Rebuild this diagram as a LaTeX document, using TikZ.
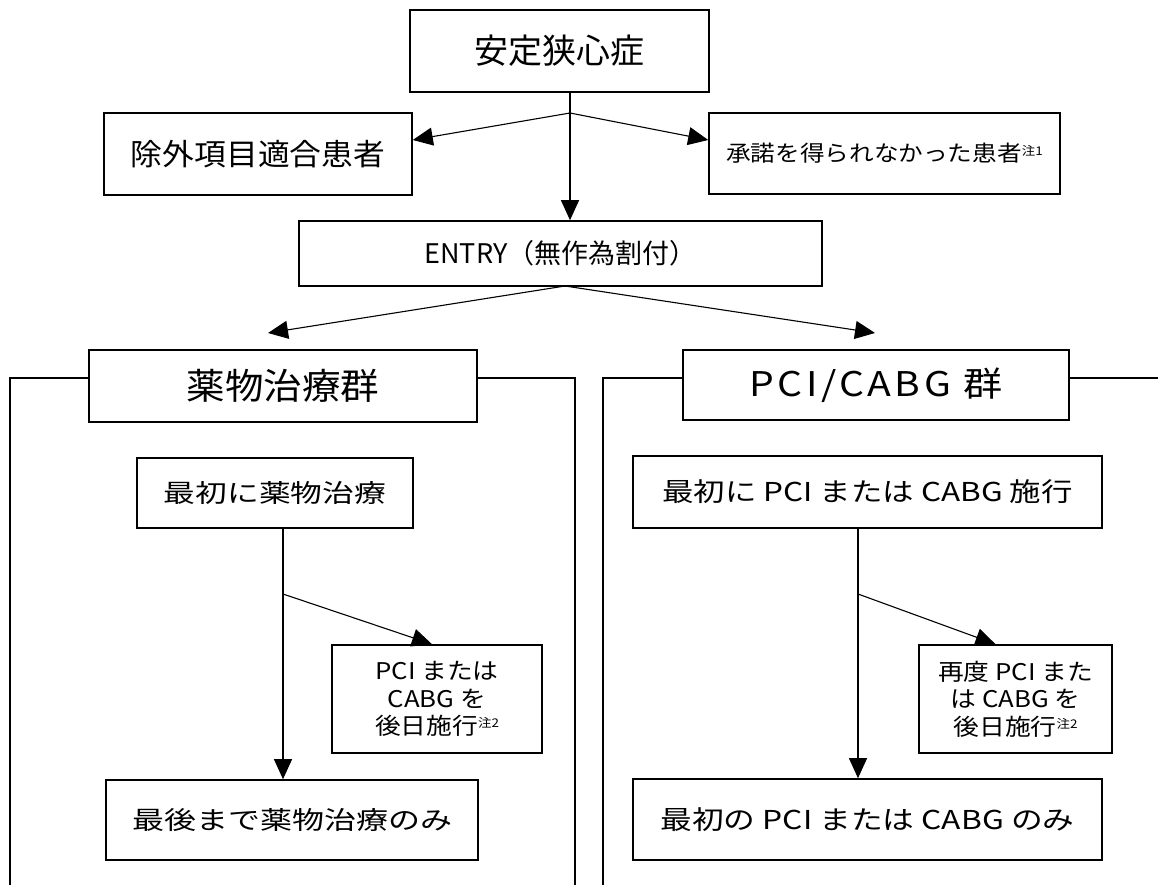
\documentclass[tikz,border=0pt]{standalone}
\usepackage{fontspec}
\setmainfont{Noto Sans CJK JP}
\usetikzlibrary{arrows.meta}
\newcommand{\fs}[3]{\fontsize{#1pt}{1.2\dimexpr #1pt\relax}\selectfont\addfontfeature{FakeStretch=#2,LetterSpace=#3}}
\newcommand{\chu}[1]{\raisebox{0.3em}{\fontsize{12pt}{12pt}\selectfont 注#1}}
\tikzset{
  box/.style={draw, line width=1.6pt, inner sep=0pt, align=center, text=black},
  frame/.style={draw, line width=1.6pt},
  conn/.style={draw, line width=1.1pt},
  arr/.style={conn, -{Triangle[length=20pt,width=18pt]}},
}
\begin{document}
\begin{tikzpicture}[x=1pt,y=-1pt]
\useasboundingbox (0,0) rectangle (1158,885);
\fill[white] (0,0) rectangle (1158,885);

% top part
\node[box, minimum width=299pt, minimum height=82pt, font={\fs{34}{1.0}{0}}] (top) at (559.5,51) {安定狭心症};
\node[box, minimum width=308pt, minimum height=82pt, font={\fs{30}{1.06}{0}}] (excl) at (258,154) {除外項目適合患者};
\node[box, minimum width=351pt, minimum height=81pt, font={\fs{22}{1.12}{0}}] (cons) at (884.5,153.5) {承諾を得られなかった患者\chu{1}};
\node[box, minimum width=523pt, minimum height=65pt, font={\fs{27}{1.0}{0}}] (entry) at (560.5,253.5) {ENTRY（無作為割付）};

% groups
\node[box, minimum width=388pt, minimum height=72pt, font={\fs{36}{1.07}{0}}] (medg) at (283,386) {薬物治療群};
\node[box, minimum width=386pt, minimum height=70pt, font={\fs{34}{1.15}{10}}] (pcig) at (876,385) {PCI/CABG 群};

\node[box, minimum width=276pt, minimum height=70pt, font={\fs{25}{1.27}{0}}] (med1) at (275,493) {最初に薬物治療};
\node[box, minimum width=469pt, minimum height=72pt, font={\fs{26}{1.21}{0}}] (pci1) at (867.5,492) {最初に PCI または CABG 施行};

\node[box, minimum width=210pt, minimum height=108pt, font={\fs{23}{1.12}{0}}] (medlater) at (437,699) {PCI または\\CABG を\\後日施行\chu{2}};
\node[box, minimum width=193pt, minimum height=108pt, font={\fs{23}{1.12}{0}}] (pcilater) at (1015.5,699) {再度 PCI また\\は CABG を\\後日施行\chu{2}};

\node[box, minimum width=372pt, minimum height=80pt, font={\fs{25}{1.28}{0}}] (medonly) at (292,820) {最後まで薬物治療のみ};
\node[box, minimum width=469pt, minimum height=81pt, font={\fs{26}{1.22}{0}}] (pcionly) at (867.5,819.5) {最初の PCI または CABG のみ};

% group frames
\coordinate (fl) at (10,885);
\coordinate (fr) at (575,885);
\coordinate (gl) at (603,885);
\coordinate (gr) at (1158,378);
\draw[frame] ([yshift=8pt]medg.west) -| (fl);
\draw[frame] ([yshift=8pt]medg.east) -| (fr);
\draw[frame] ([yshift=7pt]pcig.west) -| (gl);
\draw[frame] ([yshift=7pt]pcig.east) -- (gr);

% connectors top
\coordinate (b1) at (570,113);
\draw[arr] (top.south -| b1) -- (entry.north -| b1);
\draw[arr] (b1) -- ([yshift=14pt]excl.east);
\draw[arr] (b1) -- ([yshift=13.5pt]cons.west);

\coordinate (e1) at (565,286);
\coordinate (t1) at (268,333);
\coordinate (t2) at (875,333);
\draw[arr] (e1) -- (t1);
\draw[arr] (e1) -- (t2);

% connectors lower
\coordinate (b2) at (283,594);
\draw[arr] (med1.south -| b2) -- (medonly.north -| b2);
\draw[arr] (b2) -- ([xshift=-5pt]medlater.north);

\coordinate (b3) at (858,594);
\draw[arr] (pci1.south -| b3) -- (pcionly.north -| b3);
\draw[arr] (b3) -- ([xshift=-20pt]pcilater.north);
\end{tikzpicture}
\end{document}
